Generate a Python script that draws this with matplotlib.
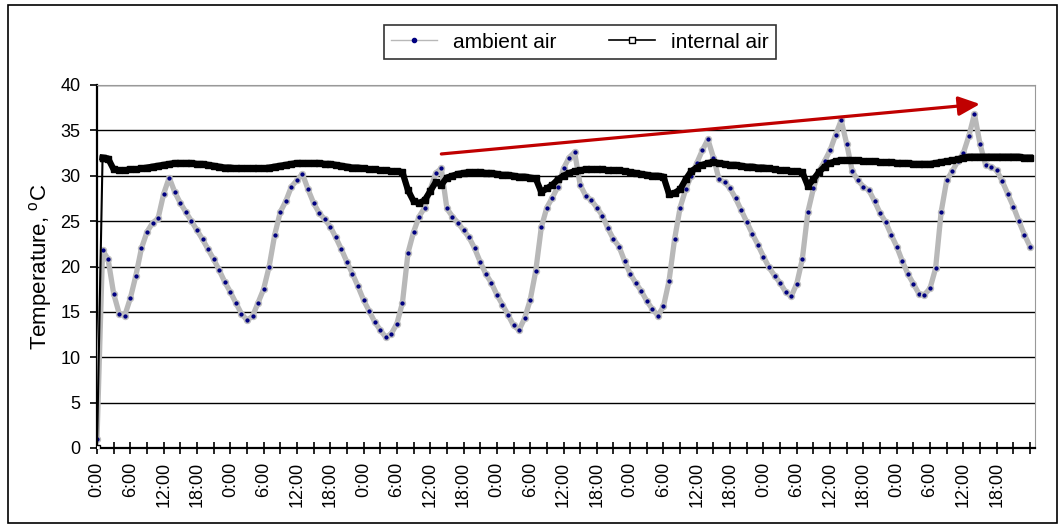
import matplotlib
matplotlib.use("Agg")
import matplotlib.pyplot as plt
from matplotlib.lines import Line2D
from matplotlib.patches import Rectangle
import numpy as np

plt.rcParams["font.family"] = ["Liberation Sans", "DejaVu Sans"]
plt.rcParams["mathtext.fontset"] = "custom"
plt.rcParams["mathtext.rm"] = "Liberation Sans"

# hourly readings, hour 0 .. 168
hours = np.arange(0, 169)

ambient = [
    1.0, 21.8, 20.8, 17.0, 14.8, 14.6, 16.5, 19.0, 22.0, 23.8, 24.8, 25.3,
    28.0, 29.8, 28.2, 27.0, 26.0, 25.0, 24.0, 23.0, 21.9, 20.8, 19.6, 18.3,
    17.2, 16.0, 14.8, 14.1, 14.5, 16.0, 17.5, 20.0, 23.5, 26.0, 27.2, 28.8,
    29.5, 30.2, 28.5, 27.0, 25.9, 25.2, 24.4, 23.2, 21.9, 20.5, 19.2, 17.8,
    16.3, 15.1, 13.9, 13.0, 12.2, 12.6, 13.7, 16.0, 21.5, 23.8, 25.5, 26.5,
    28.5, 30.3, 30.8, 26.4, 25.5, 24.8, 24.0, 23.2, 22.0, 20.5, 19.2, 18.2,
    16.9, 15.8, 14.7, 13.5, 13.0, 14.3, 16.3, 19.5, 24.3, 26.5, 27.6, 28.8,
    30.8, 32.0, 32.6, 29.0, 27.8, 27.3, 26.5, 25.6, 24.2, 23.0, 22.2, 20.6,
    19.2, 18.2, 17.3, 16.2, 15.3, 14.6, 15.6, 18.4, 23.0, 26.5, 28.5, 30.0,
    31.4, 32.8, 34.0, 32.0, 29.6, 29.3, 28.6, 27.5, 26.2, 24.9, 23.6, 22.4,
    21.1, 19.9, 19.0, 18.2, 17.2, 16.7, 18.1, 20.8, 26.0, 28.6, 30.5, 31.6,
    32.8, 34.5, 36.1, 33.5, 30.5, 29.5, 28.8, 28.4, 27.2, 25.9, 24.9, 23.5,
    22.2, 20.6, 19.2, 18.1, 17.0, 16.9, 17.6, 19.8, 26.0, 29.5, 30.5, 31.6,
    32.5, 34.4, 36.8, 33.5, 31.2, 31.0, 30.6, 29.4, 28.0, 26.6, 25.0, 23.5,
    22.2,
]

internal = [
    0.0, 32.0, 31.9, 30.7, 30.6, 30.6, 30.7, 30.7, 30.8, 30.9, 31.0, 31.1,
    31.2, 31.3, 31.4, 31.4, 31.4, 31.4, 31.3, 31.3, 31.2, 31.1, 31.0, 30.9,
    30.9, 30.8, 30.8, 30.8, 30.8, 30.8, 30.8, 30.9, 31.0, 31.1, 31.2, 31.3,
    31.4, 31.4, 31.4, 31.4, 31.4, 31.3, 31.3, 31.2, 31.1, 31.0, 30.9, 30.9,
    30.8, 30.7, 30.7, 30.6, 30.6, 30.5, 30.5, 30.4, 28.4, 27.2, 27.0, 27.3,
    28.3, 29.3, 29.0, 29.8, 30.0, 30.2, 30.3, 30.4, 30.4, 30.4, 30.3, 30.3,
    30.2, 30.1, 30.1, 30.0, 29.9, 29.9, 29.8, 29.7, 28.2, 28.6, 29.0, 29.6,
    30.0, 30.3, 30.5, 30.6, 30.7, 30.7, 30.7, 30.7, 30.6, 30.6, 30.6, 30.5,
    30.4, 30.3, 30.2, 30.1, 30.0, 30.0, 29.9, 28.0, 28.1, 28.5, 29.6, 30.5,
    30.9, 31.2, 31.4, 31.5, 31.4, 31.3, 31.2, 31.2, 31.1, 31.0, 31.0, 30.9,
    30.9, 30.8, 30.7, 30.6, 30.6, 30.5, 30.5, 30.4, 28.9, 29.6, 30.4, 31.0,
    31.4, 31.6, 31.7, 31.7, 31.7, 31.7, 31.6, 31.6, 31.6, 31.5, 31.5, 31.5,
    31.4, 31.4, 31.4, 31.3, 31.3, 31.3, 31.3, 31.4, 31.5, 31.6, 31.7, 31.8,
    32.0, 32.1, 32.1, 32.1, 32.1, 32.1, 32.1, 32.1, 32.1, 32.1, 32.1, 32.0,
    32.0,
]

tick_hours = np.arange(0, 169, 3)
tick_labels = [f"{h % 24}:00" if (h % 6 == 0 and h < 168) else "" for h in tick_hours]

# trend arrow (hour, temperature)
arrow_start = (62, 32.4)
arrow_end = (159, 37.9)

fig = plt.figure(figsize=(10.64, 5.28), dpi=100)
ax = fig.add_axes([97 / 1064, 1 - 448 / 528, 938 / 1064, 363 / 528])

ax.plot(hours, ambient, color="#b8b8b8", lw=3.8, marker="o", ms=4.2,
        mfc="#000080", mec="#c0c0c0", mew=1.1, zorder=3)
# thin first segment, thick band afterwards
ax.plot(hours[:2], internal[:2], color="black", lw=1.5, marker="s", ms=4,
        mfc="white", mec="black", zorder=4)
ax.plot(hours[1:], internal[1:], color="black", lw=4.5, marker="s", ms=4.6,
        mfc="black", mec="black", solid_joinstyle="round", zorder=4)

ax.annotate("", xy=arrow_end, xytext=arrow_start,
            arrowprops=dict(arrowstyle="-|>,head_length=1.0,head_width=0.45",
                            mutation_scale=13, color="#c00000", lw=2.3,
                            shrinkA=0, shrinkB=0), zorder=5)

ax.set_xlim(0, 168.9)
ax.set_ylim(0, 40)
ax.set_yticks(np.arange(0, 41, 5))
ax.set_xticks(tick_hours)
ax.set_xticklabels(tick_labels, rotation=90, fontsize=13)
ax.tick_params(axis="x", direction="inout", length=8.5, width=1.2, pad=6)
ax.tick_params(axis="y", direction="out", length=4.8, width=1.2, pad=7, labelsize=13)
ax.grid(axis="y", color="black", lw=1)
ax.set_axisbelow(True)

ax.spines["left"].set_linewidth(1.6)
ax.spines["bottom"].set_linewidth(1.6)
ax.spines["top"].set_color("#999999")
ax.spines["right"].set_color("#999999")

ax.set_ylabel(r"Temperature, $^{\rm o}$C", fontsize=16, labelpad=5)

handles = [
    Line2D([], [], color="#b8b8b8", lw=1, marker="o", ms=3, mfc="#000080", mec="#000080"),
    Line2D([], [], color="black", lw=1.2, marker="s", ms=4, mfc="white", mec="black"),
]
leg = fig.legend(handles, ["ambient air", "internal air"], loc="center",
                 bbox_to_anchor=(580 / 1064, 1 - 42 / 528), ncol=2, fontsize=15,
                 frameon=True, fancybox=False, edgecolor="black", handlelength=2.2,
                 columnspacing=2.5, borderpad=0.35)
leg.get_frame().set_linewidth(1.2)

fig.add_artist(Rectangle((8 / 1064, 5 / 528), 1049 / 1064, 518 / 528,
                         transform=fig.transFigure, fill=False, edgecolor="black", lw=1.2))

fig.savefig("out.png", dpi=100)
